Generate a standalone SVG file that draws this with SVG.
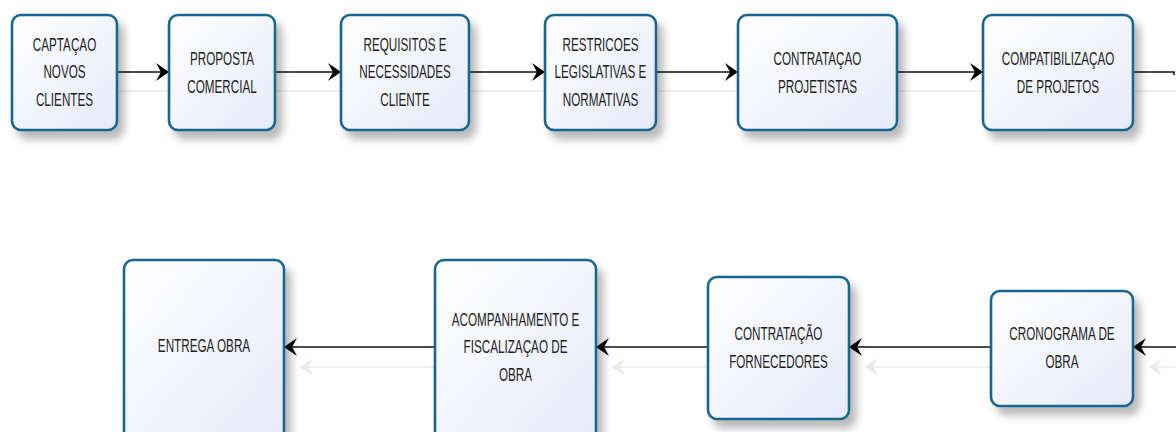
<svg xmlns="http://www.w3.org/2000/svg" width="1176" height="432" viewBox="0 0 1176 432">
  <defs>
    <linearGradient id="boxFill" x1="0" y1="0" x2="1" y2="1">
      <stop offset="0" stop-color="#ffffff"/>
      <stop offset="1" stop-color="#e6eaf9"/>
    </linearGradient>
    <filter id="drop" x="-20%" y="-20%" width="150%" height="150%">
      <feDropShadow dx="6" dy="8" stdDeviation="4" flood-color="#000" flood-opacity="0.28"/>
    </filter>
    <marker id="head" markerUnits="userSpaceOnUse" viewBox="0 0 13 18" refX="13" refY="9" markerWidth="13" markerHeight="18" orient="auto">
      <path d="M0,0 L13,9 L0,18 L5,9 Z" fill="#000"/>
    </marker>
    <marker id="headGhost" markerUnits="userSpaceOnUse" viewBox="0 0 13 18" refX="13" refY="9" markerWidth="13" markerHeight="18" orient="auto">
      <path d="M0,0 L13,9 L0,18 L5,9 Z" fill="#e9e9e9"/>
    </marker>
  </defs>
  <style>
    .box { fill: url(#boxFill); stroke: #17668f; stroke-width: 2.6; filter: url(#drop); }
    .lbl { font-family: "Liberation Sans", Arial, sans-serif; font-size: 18px; fill: #1e1e1e; text-anchor: middle; }
    .link { stroke: #111; stroke-width: 1.6; fill: none; marker-end: url(#head); }
    .ghost { stroke: #efefef; stroke-width: 2; fill: none; }
    .ghostArrow { stroke: #efefef; stroke-width: 2; fill: none; marker-end: url(#headGhost); }
  </style>

  <!-- faint reflections under the connectors -->
  <g id="reflections">
    <line class="ghost" x1="117" y1="91" x2="1176" y2="91"/>
    <line class="ghostArrow" x1="1176" y1="367" x2="1149" y2="367"/>
    <line class="ghostArrow" x1="1007" y1="367" x2="865" y2="367"/>
    <line class="ghostArrow" x1="724" y1="367" x2="612" y2="367"/>
    <line class="ghostArrow" x1="451" y1="367" x2="300" y2="367"/>
  </g>

  <!-- connectors -->
  <g id="connectors">
    <line class="link" x1="117" y1="72" x2="169" y2="72"/>
    <line class="link" x1="275" y1="72" x2="341" y2="72"/>
    <line class="link" x1="469" y1="72" x2="545" y2="72"/>
    <line class="link" x1="656" y1="72" x2="738" y2="72"/>
    <line class="link" x1="897" y1="72" x2="983" y2="72"/>
    <path d="M1133,72 H1174 V75" stroke="#111" stroke-width="1.6" fill="none"/>
    <line class="link" x1="1176" y1="347" x2="1133" y2="347"/>
    <line class="link" x1="991" y1="347" x2="849" y2="347"/>
    <line class="link" x1="708" y1="347" x2="596" y2="347"/>
    <line class="link" x1="435" y1="347" x2="284" y2="347"/>
  </g>

  <!-- top row -->
  <g id="captacao">
    <rect class="box" x="12" y="15" width="105" height="115" rx="9"/>
    <g transform="translate(64.5,0) scale(0.65,1)">
      <text class="lbl" x="0" y="51">CAPTAÇAO</text>
      <text class="lbl" x="0" y="78">NOVOS</text>
      <text class="lbl" x="0" y="106">CLIENTES</text>
    </g>
  </g>
  <g id="proposta">
    <rect class="box" x="169" y="15" width="106" height="115" rx="9"/>
    <g transform="translate(222,0) scale(0.65,1)">
      <text class="lbl" x="0" y="65">PROPOSTA</text>
      <text class="lbl" x="0" y="93">COMERCIAL</text>
    </g>
  </g>
  <g id="requisitos">
    <rect class="box" x="341" y="15" width="128" height="115" rx="9"/>
    <g transform="translate(405,0) scale(0.65,1)">
      <text class="lbl" x="0" y="51">REQUISITOS E</text>
      <text class="lbl" x="0" y="78">NECESSIDADES</text>
      <text class="lbl" x="0" y="106">CLIENTE</text>
    </g>
  </g>
  <g id="restricoes">
    <rect class="box" x="545" y="15" width="111" height="115" rx="9"/>
    <g transform="translate(600.5,0) scale(0.65,1)">
      <text class="lbl" x="0" y="51">RESTRICOES</text>
      <text class="lbl" x="0" y="78">LEGISLATIVAS E</text>
      <text class="lbl" x="0" y="106">NORMATIVAS</text>
    </g>
  </g>
  <g id="contratacao-projetistas">
    <rect class="box" x="738" y="15" width="159" height="115" rx="9"/>
    <g transform="translate(817.5,0) scale(0.65,1)">
      <text class="lbl" x="0" y="65">CONTRATAÇAO</text>
      <text class="lbl" x="0" y="93">PROJETISTAS</text>
    </g>
  </g>
  <g id="compatibilizacao">
    <rect class="box" x="983" y="15" width="150" height="115" rx="9"/>
    <g transform="translate(1058,0) scale(0.65,1)">
      <text class="lbl" x="0" y="65">COMPATIBILIZAÇAO</text>
      <text class="lbl" x="0" y="93">DE PROJETOS</text>
    </g>
  </g>

  <!-- bottom row -->
  <g id="cronograma">
    <rect class="box" x="991" y="291" width="142" height="115" rx="9"/>
    <g transform="translate(1062,0) scale(0.65,1)">
      <text class="lbl" x="0" y="340">CRONOGRAMA DE</text>
      <text class="lbl" x="0" y="368">OBRA</text>
    </g>
  </g>
  <g id="contratacao-fornecedores">
    <rect class="box" x="708" y="277" width="141" height="142" rx="9"/>
    <g transform="translate(778.5,0) scale(0.65,1)">
      <text class="lbl" x="0" y="340">CONTRATAÇÃO</text>
      <text class="lbl" x="0" y="368">FORNECEDORES</text>
    </g>
  </g>
  <g id="acompanhamento">
    <rect class="box" x="435" y="260" width="161" height="185" rx="9"/>
    <g transform="translate(515.5,0) scale(0.65,1)">
      <text class="lbl" x="0" y="326">ACOMPANHAMENTO E</text>
      <text class="lbl" x="0" y="353">FISCALIZAÇAO DE</text>
      <text class="lbl" x="0" y="381">OBRA</text>
    </g>
  </g>
  <g id="entrega">
    <rect class="box" x="124" y="260" width="160" height="185" rx="9"/>
    <g transform="translate(204,0) scale(0.65,1)">
      <text class="lbl" x="0" y="352">ENTREGA OBRA</text>
    </g>
  </g>
</svg>
